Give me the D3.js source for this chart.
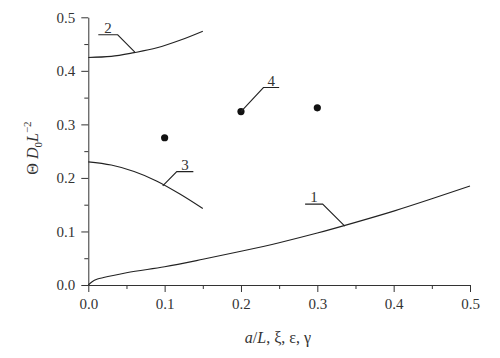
<!DOCTYPE html>
<html>
<head>
<meta charset="utf-8">
<script src="https://cdn.jsdelivr.net/npm/d3@7"></script>
<style>
  body { margin: 0; background: #fff; }
  svg { display: block; font-family: "Liberation Serif", "DejaVu Serif", serif; }
</style>
</head>
<body>
<div id="chart"></div>
<script>
// curve 1, 2, 3 (x = a/L etc.) and the dots of series 4
var curve1X = [0, 0.005, 0.012, 0.02, 0.05, 0.1, 0.15, 0.2, 0.25, 0.3, 0.35, 0.4, 0.45, 0.5];
var curve1Y = [0, 0.006, 0.011, 0.014, 0.023, 0.034, 0.048, 0.063, 0.079, 0.097, 0.117, 0.138, 0.161, 0.185];

var curve2X = [0, 0.03, 0.06, 0.09, 0.12, 0.15];
var curve2Y = [0.425, 0.427, 0.434, 0.443, 0.457, 0.474];

var curve3X = [0, 0.03, 0.06, 0.09, 0.12, 0.15];
var curve3Y = [0.230, 0.224, 0.212, 0.194, 0.170, 0.143];

var dotsX = [0.1, 0.2, 0.3];
var dotsY = [0.275, 0.324, 0.331];

var xTicks = [0, 0.1, 0.2, 0.3, 0.4, 0.5];
var yTicks = [0, 0.1, 0.2, 0.3, 0.4, 0.5];

// leader labels: touch point, knee, end of the shelf (data units)
var labelNames = ["1", "2", "3", "4"];
var labelTouch = [[0.336, 0.110], [0.061, 0.435], [0.0975, 0.185], [0.2, 0.324]];
var labelKnee  = [[0.307, 0.151], [0.0385, 0.4673], [0.1159, 0.2118], [0.2294, 0.3688]];
var labelEnd   = [[0.284, 0.151], [0.0131, 0.4673], [0.1376, 0.2118], [0.25, 0.3688]];

var full_width = 500, full_height = 358;
var margin = {top: 17.3, left: 88.3, right: 30, bottom: 73};
var width = full_width - margin.left - margin.right,
    height = full_height - margin.top - margin.bottom;

var serif = "'Liberation Serif', 'DejaVu Serif', serif";

var svg = d3.select("#chart").append("svg")
    .attr("width", full_width)
    .attr("height", full_height);

var g = svg.append("g")
    .attr("transform", "translate(" + margin.left + "," + margin.top + ")");

var x = d3.scaleLinear().domain([0, 0.5]).range([0, width]);
var y = d3.scaleLinear().domain([0, 0.5]).range([height, 0]);

var fmt = d3.format(".1f");

function styleAxis(sel) {
  sel.attr("font-family", serif).attr("font-size", 15);
  sel.selectAll("line").attr("stroke", "#333");
  sel.selectAll("path").attr("stroke", "#333");
  sel.selectAll("text").attr("fill", "#333");
}

// minor ticks first
g.append("g")
    .attr("transform", "translate(0," + height + ")")
    .call(d3.axisBottom(x).tickValues(d3.range(0.05, 0.5, 0.1)).tickSize(4).tickFormat(""))
    .call(styleAxis)
    .select(".domain").remove();
g.append("g")
    .call(d3.axisLeft(y).tickValues(d3.range(0.05, 0.5, 0.1)).tickSize(4).tickFormat(""))
    .call(styleAxis)
    .select(".domain").remove();

g.append("g")
    .attr("transform", "translate(0," + height + ")")
    .call(d3.axisBottom(x).tickValues(xTicks).tickSize(7).tickSizeOuter(0).tickPadding(6).tickFormat(fmt))
    .call(styleAxis);
g.append("g")
    .call(d3.axisLeft(y).tickValues(yTicks).tickSize(7).tickSizeOuter(0).tickPadding(6).tickFormat(fmt))
    .call(styleAxis);

var line = d3.line()
    .x(function(d) { return x(d[0]); })
    .y(function(d) { return y(d[1]); })
    .curve(d3.curveMonotoneX);

[[curve1X, curve1Y], [curve2X, curve2Y], [curve3X, curve3Y]].forEach(function(c) {
  g.append("path")
    .datum(d3.zip(c[0], c[1]))
    .attr("fill", "none")
    .attr("stroke", "#222")
    .attr("stroke-width", 1.1)
    .attr("d", line);
});

g.selectAll(".dot")
    .data(d3.zip(dotsX, dotsY))
  .enter().append("circle")
    .attr("class", "dot")
    .attr("cx", function(d) { return x(d[0]); })
    .attr("cy", function(d) { return y(d[1]); })
    .attr("r", 3.6)
    .attr("fill", "#111");

labelNames.forEach(function(name, i) {
  var pts = [labelTouch[i], labelKnee[i], labelEnd[i]];
  g.append("polyline")
    .attr("points", pts.map(function(p) { return x(p[0]) + "," + y(p[1]); }).join(" "))
    .attr("fill", "none")
    .attr("stroke", "#222")
    .attr("stroke-width", 1.1);
  g.append("text")
    .attr("x", (x(labelKnee[i][0]) + x(labelEnd[i][0])) / 2)
    .attr("y", y(labelKnee[i][1]) - 2)
    .attr("text-anchor", "middle")
    .attr("font-family", serif)
    .attr("font-size", 15)
    .attr("fill", "#333")
    .text(name);
});

// x label
var xl = svg.append("text")
    .attr("x", 278)
    .attr("y", 343)
    .attr("text-anchor", "middle")
    .attr("font-family", serif)
    .attr("font-size", 16)
    .attr("fill", "#333");
xl.append("tspan").attr("font-style", "italic").text("a");
xl.append("tspan").text("/");
xl.append("tspan").attr("font-style", "italic").text("L");
xl.append("tspan").text(", \u03be, \u03b5, \u03b3");

// y label
var yl = svg.append("text")
    .attr("transform", "translate(38,148) rotate(-90)")
    .attr("text-anchor", "middle")
    .attr("font-family", serif)
    .attr("font-size", 16)
    .attr("fill", "#333");
yl.append("tspan").text("\u0398 ");
yl.append("tspan").attr("font-style", "italic").text("D");
yl.append("tspan").attr("font-size", 11).attr("dy", 4).text("0");
yl.append("tspan").attr("font-style", "italic").attr("dy", -4).text("L");
yl.append("tspan").attr("font-size", 11).attr("dy", -7).text("\u22122");
</script>
</body>
</html>
